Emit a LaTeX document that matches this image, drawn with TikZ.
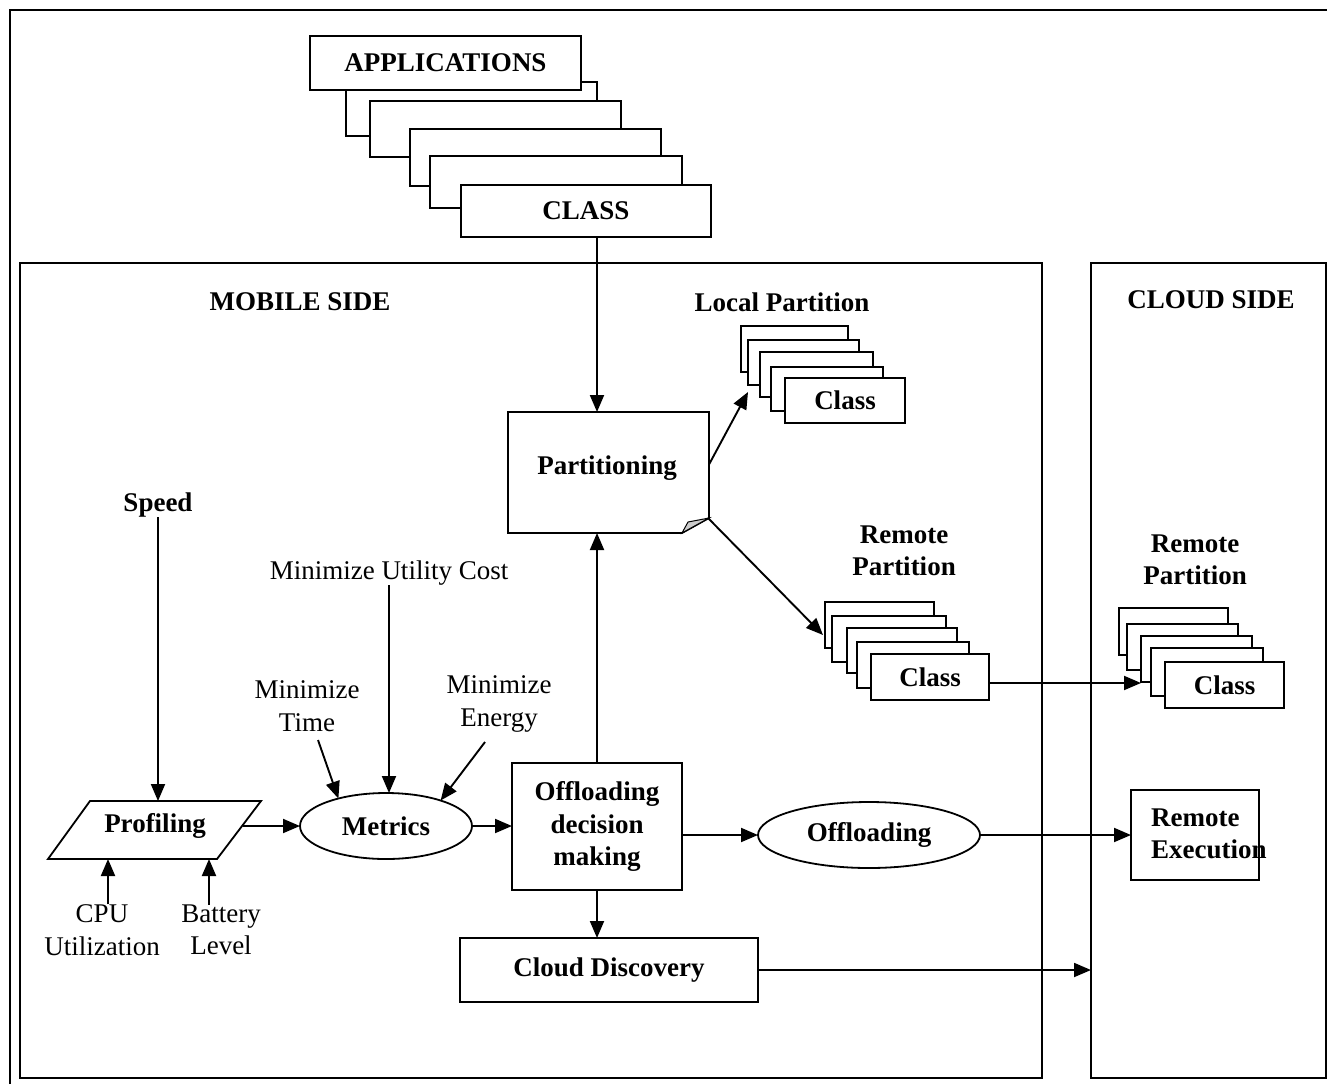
\documentclass[tikz,border=0pt]{standalone}
\usepackage{fontspec}
\setmainfont{Liberation Serif}
\usetikzlibrary{shapes.geometric,arrows.meta}

\begin{document}
\begin{tikzpicture}[x=1pt,y=-1pt,
  frame/.style={draw, line width=2.2pt, inner sep=0pt, outer sep=0pt, anchor=north west},
  box/.style={draw, fill=white, line width=1.8pt, inner sep=0pt, outer sep=0pt,
              anchor=north west, font=\fontsize{27}{32.5}\selectfont\bfseries, align=center},
  oval/.style={ellipse, draw, fill=white, line width=1.8pt, inner sep=0pt, outer sep=0pt,
              font=\fontsize{27}{32.5}\selectfont\bfseries},
  lbl/.style={font=\fontsize{27}{32.5}\selectfont\bfseries, inner sep=0pt, align=center},
  txt/.style={font=\fontsize{27}{32.5}\selectfont, inner sep=0pt, align=center},
  arr/.style={-{Triangle[length=17pt,width=14pt]}, line width=1.9pt},
  ]
\useasboundingbox (0,0) rectangle (1327,1084);

% outer border
\draw[line width=2.4pt] (10,1084) -- (10,10) -- (1327,10);

% side panels
\node[frame, minimum width=1022pt, minimum height=815pt] (mobile) at (20,263) {};
\node[frame, minimum width=235pt, minimum height=815pt] (cloud) at (1091,263) {};
\node[lbl] (mobtitle) at (300,302) {MOBILE SIDE};
\node[lbl] (cloudtitle) at (1211,300) {CLOUD SIDE};

% application stack
\node[box, minimum width=251pt, minimum height=54pt] (a2) at (346,82) {};
\node[box, minimum width=271pt, minimum height=54pt] (apps) at (310,36) {APPLICATIONS};
\node[box, minimum width=251pt, minimum height=56pt] (a3) at (370,101) {};
\node[box, minimum width=251pt, minimum height=57pt] (a4) at (410,129) {};
\node[box, minimum width=252pt, minimum height=52pt] (a5) at (430,156) {};
\node[box, minimum width=250pt, minimum height=52pt] (cls) at (461,185) {CLASS};

% partitioning (note with folded corner)
\node[inner sep=0pt, outer sep=0pt, minimum width=201pt, minimum height=121pt,
      anchor=north west] (part) at (508,412) {};
\draw[line width=1.8pt, fill=white]
  (part.north west) -- (part.north east) -- ([yshift=15pt]part.south east)
  -- ([xshift=-27pt]part.south east) -- (part.south west) -- cycle;
\draw[line width=1pt, fill=black!20]
  ([xshift=-27pt]part.south east) -- ([xshift=-21pt,yshift=11pt]part.south east)
  -- ([yshift=15pt]part.south east) -- cycle;
\node[lbl] (parttext) at (607,468) {Partitioning};
\coordinate (fold) at ([xshift=-1pt,yshift=15pt]part.south east);

% local partition stack
\node[lbl] (loctitle) at (782,302) {Local Partition};
\node[box, minimum width=107pt, minimum height=46pt] (l1) at (741,326) {};
\node[box, minimum width=111pt, minimum height=45pt] (l2) at (748,340) {};
\node[box, minimum width=113pt, minimum height=45pt] (l3) at (760,352) {};
\node[box, minimum width=112pt, minimum height=44pt] (l4) at (771,367) {};
\node[box, minimum width=120pt, minimum height=45pt] (lc) at (785,378) {Class};

% remote partition stack (mobile)
\node[lbl] (remtitle) at (904,551) {Remote\\Partition};
\node[box, minimum width=109pt, minimum height=46pt] (r1) at (825,602) {};
\node[box, minimum width=114pt, minimum height=46pt] (r2) at (832,616) {};
\node[box, minimum width=110pt, minimum height=45pt] (r3) at (847,628) {};
\node[box, minimum width=112pt, minimum height=46pt] (r4) at (857,642) {};
\node[box, minimum width=118pt, minimum height=46pt] (rc) at (871,654) {Class};
\coordinate (rcout) at ([yshift=-6pt]rc.east);

% remote partition stack (cloud)
\node[lbl] (cremtitle) at (1195,560) {Remote\\Partition};
\node[box, minimum width=109pt, minimum height=47pt] (c1) at (1119,608) {};
\node[box, minimum width=111pt, minimum height=46pt] (c2) at (1127,624) {};
\node[box, minimum width=111pt, minimum height=46pt] (c3) at (1141,636) {};
\node[box, minimum width=112pt, minimum height=48pt] (c4) at (1151,648) {};
\node[box, minimum width=119pt, minimum height=46pt] (cc) at (1165,662) {Class};

% remote execution
\node[box, minimum width=128pt, minimum height=90pt] (rex) at (1131,790) {};
\node[lbl, anchor=west, align=left] (rextext) at (1151,834) {Remote\\Execution};

% decision, discovery, offloading
\node[box, minimum width=170pt, minimum height=127pt] (dec) at (512,763) {Offloading\\decision\\making};
\node[box, minimum width=298pt, minimum height=64pt] (disc) at (460,938) {Cloud Discovery};
\node[oval, minimum width=222pt, minimum height=66pt] (off) at (869,835) {Offloading};
\node[oval, minimum width=172pt, minimum height=66pt] (met) at (386,826) {Metrics};

% profiling (parallelogram)
\coordinate (ptl) at (90,801);
\coordinate (ptr) at (261,801);
\coordinate (pbr) at (217,859);
\coordinate (pbl) at (48,859);
\draw[line width=1.8pt, fill=white] (ptl) -- (ptr) -- (pbr) -- (pbl) -- cycle;
\node[lbl] (prof) at (155,826) {Profiling};
\coordinate (pout) at (243,826);

% profiling inputs
\node[lbl] (speed) at (158,505) {Speed};
\node[txt] (cpu) at (102,930) {CPU\\Utilization};
\node[txt] (bat) at (221,930) {Battery\\Level};
\coordinate (cpuin) at (108,859);
\coordinate (batin) at (209,859);

% metric inputs
\node[txt] (muc) at (389,573) {Minimize Utility Cost};
\node[txt] (mtime) at (307,706) {Minimize\\Time};
\node[txt] (menergy) at (499,704) {Minimize\\Energy};
\coordinate (mtfrom) at (318,740);
\coordinate (mefrom) at (485,742);

% connectors
\draw[arr] (dec.north |- cls.south) -- (dec.north |- part.north);
\draw[arr] ([yshift=8pt]part.east) -- ([yshift=-7pt]l2.south west);
\draw[arr] (fold) -- ([xshift=-2pt,yshift=-10pt]r1.west);
\draw[arr] (rcout) -- (c3.west |- rcout);
\draw[arr] (speed.south) -- (speed.south |- ptl);
\draw[arr] (cpuin |- cpu.north) -- (cpuin);
\draw[arr] (batin |- bat.north) -- (batin);
\draw[arr] (pout) -- (met.west);
\draw[arr] (muc.south) -- (muc.south |- met.north);
\draw[arr] (mtfrom) -- (met.150);
\draw[arr] (mefrom) -- (met.25);
\draw[arr] (met.east) -- (dec.west |- met.east);
\draw[arr] (dec.north) -- (dec.north |- part.south);
\draw[arr] (dec.south) -- (dec.south |- disc.north);
\draw[arr] (dec.east |- off.west) -- (off.west);
\draw[arr] (off.east) -- (rex.west |- off.east);
\draw[arr] (disc.east) -- (cloud.west |- disc.east);
\end{tikzpicture}
\end{document}
